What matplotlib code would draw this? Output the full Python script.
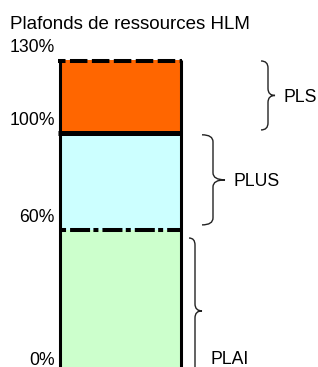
import matplotlib
matplotlib.use('Agg')
import matplotlib.pyplot as plt
from matplotlib.path import Path
from matplotlib.patches import PathPatch

plt.rcParams['font.family'] = ['Liberation Sans', 'DejaVu Sans']
plt.rcParams['lines.scale_dashes'] = False

title = 'Plafonds de ressources HLM'
segments = ['PLAI', 'PLUS', 'PLS']
lower = [0, 60, 100]
upper = [60, 100, 130]
colors = ['#CCFFCC', '#CCFFFF', '#FF6600']
tick_values = [0, 60, 100, 130]
tick_labels = ['0%', '60%', '100%', '130%']

# pixel geometry of the picture: 130% sits at y=60px, 60% at y=230px
ppp = (230 - 60) / 70.0


def pct(py):
    return 130 - (py - 60) / ppp


fig = plt.figure(figsize=(3.18, 3.67), dpi=100)
ax = fig.add_axes([0, 0, 1, 1])
ax.set_xlim(0, 318)
ax.set_ylim(pct(367), pct(0))
ax.axis('off')

# the stacked column
heights = [u - l for l, u in zip(lower, upper)]
ax.bar(120, heights, bottom=lower, width=121, color=colors, linewidth=0, zorder=1)

x0, x1 = 58, 182
ax.plot([59.5, 59.5], [0, 130], color='black', lw=2.2, solid_capstyle='butt', zorder=3)
ax.plot([180.5, 180.5], [0, 130], color='black', lw=2.2, solid_capstyle='butt', zorder=3)
ax.plot([x0, x1], [130 - 0.6, 130 - 0.6], color='black', lw=2.9,
        linestyle=(7.2, (12.6, 3.2)), zorder=4)
ax.plot([x0, x1], [100, 100], color='black', lw=3.6, solid_capstyle='butt', zorder=4)
ax.plot([x0, x1], [60, 60], color='black', lw=2.9,
        linestyle=(14.6, (14.4, 2.4, 3.6, 2.9)), zorder=4)

# value labels on the left (the 0% one is lifted so it stays inside the picture)
for v, lab in zip(tick_values, tick_labels):
    dy = 8.0 if v == 0 else 5.8
    ax.annotate(lab, (55, v), xytext=(0, dy), textcoords='offset points',
                ha='right', va='baseline', fontsize=12.7, annotation_clip=False)

ax.text(10, pct(29), title, ha='left', va='baseline', fontsize=13.5)


def brace(xl, xv, xt, ytop, ybot, ymid, r=7):
    ry = r / ppp
    verts = [(xl, ytop), (xv, ytop), (xv, ytop - ry),
             (xv, ymid + ry), (xv, ymid), (xt, ymid),
             (xv, ymid), (xv, ymid - ry),
             (xv, ybot + ry), (xv, ybot), (xl, ybot)]
    codes = [Path.MOVETO, Path.CURVE3, Path.CURVE3,
             Path.LINETO, Path.CURVE3, Path.CURVE3,
             Path.CURVE3, Path.CURVE3,
             Path.LINETO, Path.CURVE3, Path.CURVE3]
    ax.add_patch(PathPatch(Path(verts, codes), facecolor='none',
                           edgecolor='#222222', lw=1.0, zorder=5))


# braces: (end x, spine x, tip x) and (top pad, bottom pad) in %
brace_x = [(189, 195, 202), (202, 213, 225), (261, 268, 275)]
pads = [(3.3, -3.3), (0.8, 2.1), (0.4, 1.2)]
for seg, lo, hi, (xl, xv, xt), (pt, pb) in zip(segments, lower, upper, brace_x, pads):
    ytop, ybot = hi - pt, lo + pb
    ymid = (ytop + ybot) / 2
    brace(xl, xv, xt, ytop, ybot, ymid)
    if seg == 'PLAI':
        ax.text(211, pct(364), seg, ha='left', va='baseline', fontsize=12.7)
    else:
        ax.annotate(seg, (xt, ymid), xytext=(5.8, -4.5), textcoords='offset points',
                    ha='left', va='baseline', fontsize=12.7)

fig.savefig('out.png', dpi=100)
